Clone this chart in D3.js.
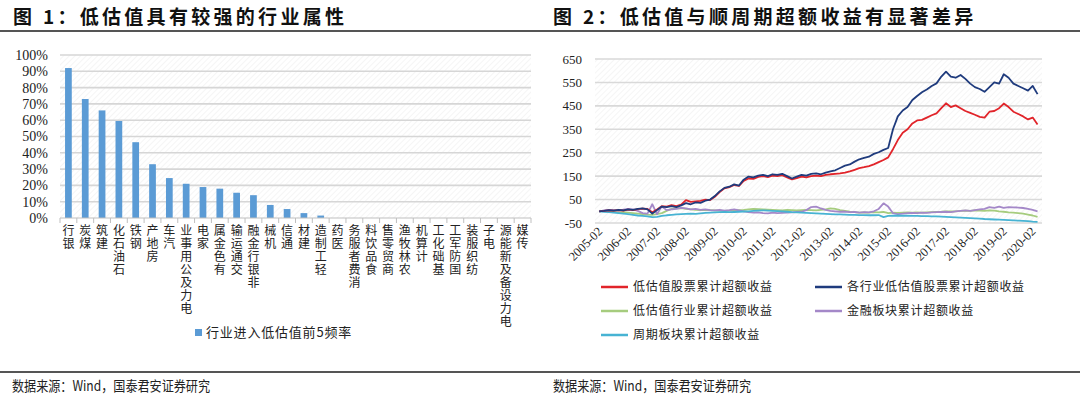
<!DOCTYPE html>
<html><head><meta charset="utf-8">
<script src="https://cdn.jsdelivr.net/npm/d3@7"></script>
<style>body{margin:0;background:#fff}svg{display:block}</style>
</head><body>
<svg id="c" width="1080" height="398"></svg>
<script>
// ---------- Left chart data ----------
const industries = ["银行","煤炭","建筑","石油石化","钢铁","房地产","汽车","电力及公用事业","家电","有色金属","交通运输","非银行金融","机械","通信","建材","轻工制造","医药","消费者服务","食品饮料","商贸零售","农林牧渔","计算机","基础化工","国防军工","纺织服装","电子","电力设备及新能源","传媒"];
const lowValFreq = [0.92,0.73,0.66,0.595,0.465,0.33,0.245,0.21,0.19,0.18,0.155,0.14,0.08,0.055,0.03,0.015,0,0,0,0,0,0,0,0,0,0,0,0];
const leftTicks = [0,0.1,0.2,0.3,0.4,0.5,0.6,0.7,0.8,0.9,1.0];
const leftLegend = "行业进入低估值前5频率";

// ---------- Right chart data (bi-monthly, 2005-02 .. 2020-06) ----------
const rightTicks = [-50,50,150,250,350,450,550,650];
const xLabels = ["2005-02","2006-02","2007-02","2008-02","2009-02","2010-02","2011-02","2012-02","2013-02","2014-02","2015-02","2016-02","2017-02","2018-02","2019-02","2020-02"];
const seriesNames = ["低估值股票累计超额收益","各行业低估值股票累计超额收益","低估值行业累计超额收益","金融板块累计超额收益","周期板块累计超额收益"];
const lowValStock = [0,2,4,3,5,3,7,5,9,11,10,-4,8,22,20,26,22,28,48,40,42,44,50,48,62,82,98,103,112,108,130,140,138,147,150,146,152,150,154,145,136,142,148,145,150,152,150,155,158,160,162,165,170,177,184,188,193,200,210,219,230,265,304,335,350,375,388,390,400,410,418,440,461,445,452,440,428,420,412,403,400,425,428,440,460,445,425,415,405,392,400,370,358];
const indLowValStock = [0,2,5,3,6,4,8,6,10,12,8,-10,5,20,18,22,18,25,35,30,38,36,45,50,65,85,100,105,115,110,135,148,145,152,155,150,158,155,160,150,140,148,155,152,160,162,158,165,170,175,185,195,200,212,222,228,233,245,252,262,270,350,405,430,445,475,492,508,520,535,546,575,596,575,570,582,565,545,530,522,510,530,550,545,585,570,545,535,525,515,535,500,490];
const lowValInd = [0,2,0,-3,-5,-4,-6,-8,-10,-12,-14,-15,-12,-8,2,10,12,14,10,8,6,5,6,5,4,3,2,3,4,5,6,8,10,9,8,7,6,5,4,6,5,4,5,6,5,4,6,8,12,10,5,2,-2,-4,-6,-5,-6,-4,-5,-3,-8,-6,-7,-6,-5,-6,-5,-6,-5,-4,-3,-2,0,-1,0,2,3,2,4,3,2,4,3,0,-2,-5,-6,-8,-10,-14,-18,-24,-30];
const finance = [0,4,6,5,3,7,10,8,2,-8,-10,30,-12,20,5,8,10,15,12,8,10,6,8,5,4,6,3,5,8,4,0,-4,-6,-5,-8,-9,-6,-8,-7,-6,-5,-3,-2,5,18,20,12,6,2,0,-2,-1,-4,-3,-6,-4,-5,0,10,34,20,-8,-12,-10,-8,-7,-8,-6,-7,-5,-4,-3,-2,-4,0,2,4,2,5,8,10,18,15,20,15,18,17,16,14,10,6,0,-6];
const cyclical = [0,-2,-4,-6,-8,-10,-12,-15,-18,-20,-22,-25,-24,-20,-17,-15,-13,-12,-11,-10,-11,-9,-7,-6,-5,-4,-3,-4,-3,-2,-1,0,2,3,4,3,2,1,0,-2,-4,-5,-6,-7,-8,-9,-10,-11,-12,-13,-13,-14,-15,-15,-16,-16,-17,-17,-16,-25,-20,-19,-18,-19,-19,-20,-20,-21,-21,-22,-22,-23,-24,-25,-26,-27,-28,-29,-30,-31,-33,-34,-35,-36,-37,-38,-39,-40,-41,-42,-44,-45,-47];
const seriesColors = ["#E1242A","#1F3B7D","#A6CC7E","#A488C8","#47B3D3"];

const svg = d3.select("#c");
const CJK = "'Noto Sans CJK SC','Noto Sans',sans-serif";
const SERIF = "'Liberation Serif','Times New Roman',serif";

// hatch pattern
const defs = svg.append("defs");
defs.append("pattern").attr("id","hatch").attr("patternUnits","userSpaceOnUse")
  .attr("width",4).attr("height",4).attr("patternTransform","rotate(45)")
  .append("line").attr("x1",0).attr("y1",0).attr("x2",0).attr("y2",4)
  .attr("stroke","#ececec").attr("stroke-width",1);

// titles
svg.append("text").attr("x",13).attr("y",24).attr("font-family",CJK).attr("font-weight",700)
  .attr("font-size",19).attr("letter-spacing",3.3).attr("fill","#111").text("图 1：低估值具有较强的行业属性");
svg.append("text").attr("x",553).attr("y",24).attr("font-family",CJK).attr("font-weight",700)
  .attr("font-size",19).attr("letter-spacing",3.3).attr("fill","#111").text("图 2：低估值与顺周期超额收益有显著差异");
svg.append("line").attr("x1",0).attr("x2",1080).attr("y1",31).attr("y2",31).attr("stroke","#555").attr("stroke-width",2);
svg.append("line").attr("x1",0).attr("x2",1080).attr("y1",372).attr("y2",372).attr("stroke","#555").attr("stroke-width",2);
[12,553].forEach(x=>{
  svg.append("text").attr("x",x).attr("y",391).attr("font-family",CJK).attr("font-size",14)
    .attr("fill","#222").attr("textLength",198).attr("lengthAdjust","spacingAndGlyphs").text("数据来源：Wind，国泰君安证券研究");
});

// ---------- Left chart ----------
const L = {x0:60,x1:531,y0:55,y1:218};
const xb = d3.scaleBand().domain(industries).range([L.x0,L.x1]).paddingInner(0.6).paddingOuter(0.3);
const yl = d3.scaleLinear().domain([0,1]).range([L.y1,L.y0]);
const gL = svg.append("g");
gL.append("rect").attr("x",L.x0).attr("y",L.y0).attr("width",L.x1-L.x0).attr("height",L.y1-L.y0).attr("fill","url(#hatch)");
gL.selectAll("line.grid").data(leftTicks.filter(d=>d>0)).join("line")
  .attr("x1",L.x0).attr("x2",L.x1).attr("y1",d=>yl(d)).attr("y2",d=>yl(d))
  .attr("stroke","#d6d6d6").attr("stroke-width",1.6);
gL.selectAll("text.yt").data(leftTicks).join("text")
  .attr("x",48).attr("y",d=>yl(d)).attr("dy","0.35em").attr("text-anchor","end")
  .attr("font-family",SERIF).attr("font-size",14).attr("fill","#222").text(d=>d3.format(".0%")(d));
gL.selectAll("rect.bar").data(industries).join("rect")
  .attr("x",d=>xb(d)).attr("width",xb.bandwidth())
  .attr("y",(d,i)=>yl(lowValFreq[i])).attr("height",(d,i)=>yl(0)-yl(lowValFreq[i]))
  .attr("fill","#5B9BD5");
gL.append("line").attr("x1",L.x0).attr("x2",L.x1).attr("y1",L.y1).attr("y2",L.y1).attr("stroke","#bfbfbf").attr("stroke-width",1);
const step = xb.step();
gL.selectAll("line.tk").data(d3.range(industries.length+1)).join("line")
  .attr("x1",i=>L.x0+i*step).attr("x2",i=>L.x0+i*step).attr("y1",L.y1).attr("y2",L.y1+5)
  .attr("stroke","#bfbfbf").attr("stroke-width",1);
gL.selectAll("text.cat").data(industries).join("text")
  .attr("x",d=>xb(d)+xb.bandwidth()/2).attr("y",224)
  .style("writing-mode","vertical-rl").style("text-orientation","upright")
  .attr("font-family",CJK).attr("font-size",12).attr("letter-spacing",1).attr("fill","#222")
  .text(d=>Array.from(d).reverse().join(""));
gL.append("rect").attr("x",195).attr("y",329).attr("width",7).attr("height",7).attr("fill","#5B9BD5");
gL.append("text").attr("x",206).attr("y",337).attr("font-family",CJK).attr("font-size",13)
  .attr("letter-spacing",0.8).attr("fill","#222").text(leftLegend);

// ---------- Right chart ----------
const R = {x0:595,x1:1042,y0:59,y1:223};
const parse = d3.timeParse("%Y-%m");
const dates = d3.timeMonth.every(2).range(parse("2005-02"), parse("2020-07"));
const xt = d3.scaleTime().domain([parse("2005-02"),parse("2020-06")]).range([597,1040]);
const yr = d3.scaleLinear().domain([-50,650]).range([R.y1,R.y0]);
const gR = svg.append("g");
gR.append("rect").attr("x",R.x0).attr("y",R.y0).attr("width",R.x1-R.x0).attr("height",R.y1-R.y0).attr("fill","url(#hatch)");
gR.selectAll("line.grid").data(rightTicks).join("line")
  .attr("x1",R.x0).attr("x2",R.x1).attr("y1",d=>yr(d)).attr("y2",d=>yr(d))
  .attr("stroke","#d9d9d9").attr("stroke-width",1.6);
gR.selectAll("text.yt").data(rightTicks).join("text")
  .attr("x",582).attr("y",d=>yr(d)).attr("dy","0.35em").attr("text-anchor","end")
  .attr("font-family",SERIF).attr("font-size",13).attr("fill","#222").text(d=>d);
gR.selectAll("text.xt").data(xLabels).join("text")
  .attr("transform",d=>`translate(${xt(parse(d))+3},${229}) rotate(-45)`)
  .attr("text-anchor","end").attr("dy","0.35em")
  .attr("font-family",SERIF).attr("font-size",12.5).attr("fill","#222").text(d=>d);
const allSeries = [lowValStock,indLowValStock,lowValInd,finance,cyclical];
const line = d3.line().x((d,i)=>xt(dates[i])).y(d=>yr(d)).curve(d3.curveLinear);
[2,3,4,0,1].forEach(k=>{
  gR.append("path").datum(allSeries[k]).attr("d",line).attr("fill","none")
    .attr("stroke",seriesColors[k]).attr("stroke-width",1.8).attr("stroke-linejoin","round");
});
// legend
const legPos = [[601,287],[815,287],[601,311],[815,311],[601,335]];
seriesNames.forEach((n,k)=>{
  const [x,y] = legPos[k];
  gR.append("line").attr("x1",x).attr("x2",x+27).attr("y1",y).attr("y2",y).attr("stroke",seriesColors[k]).attr("stroke-width",2.5);
  gR.append("text").attr("x",x+32).attr("y",y).attr("dy","0.35em").attr("font-family",CJK).attr("font-size",12)
    .attr("letter-spacing",0.7).attr("fill","#222").text(n);
});
</script>
</body></html>
